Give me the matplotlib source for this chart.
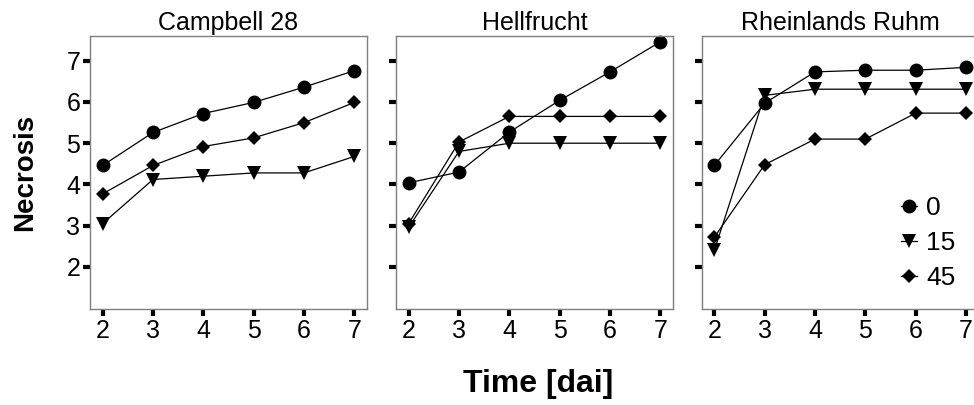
import numpy as np
import matplotlib
matplotlib.use('Agg')
import matplotlib.pyplot as plt
from matplotlib.lines import Line2D

plt.rcParams['font.family'] = ['Liberation Sans', 'DejaVu Sans']

days = [2, 3, 4, 5, 6, 7]
cultivars = ['Campbell 28', 'Hellfrucht', 'Rheinlands Ruhm']
groups = ['0', '15', '45']

# necrosis scores per cultivar and group
campbell_0 = [4.46, 5.26, 5.72, 5.99, 6.36, 6.76]
campbell_15 = [3.05, 4.12, 4.20, 4.28, 4.28, 4.68]
campbell_45 = [3.77, 4.46, 4.92, 5.13, 5.50, 5.99]

hell_0 = [4.04, 4.30, 5.27, 6.04, 6.73, 7.46]
hell_15 = [2.96, 4.80, 5.00, 5.00, 5.00, 5.00]
hell_45 = [3.05, 5.03, 5.65, 5.65, 5.65, 5.65]

rhein_0 = [4.46, 5.97, 6.73, 6.77, 6.77, 6.84]
rhein_15 = [2.40, 6.16, 6.31, 6.31, 6.31, 6.31]
rhein_45 = [2.72, 4.48, 5.10, 5.10, 5.73, 5.73]

data = {
    'Campbell 28': [campbell_0, campbell_15, campbell_45],
    'Hellfrucht': [hell_0, hell_15, hell_45],
    'Rheinlands Ruhm': [rhein_0, rhein_15, rhein_45],
}
markers = ['o', 'v', 'D']
msizes = [10, 10, 7.5]

fig = plt.figure(figsize=(9.74, 4.05), dpi=100)

lefts = [90, 396, 701.7]
width = 277
bottom = 1 - 309 / 405
height = (309 - 36) / 405

axes = []
for i, name in enumerate(cultivars):
    ax = fig.add_axes([lefts[i] / 974, bottom, width / 974, height])
    for vals, m, ms in zip(data[name], markers, msizes):
        ax.plot(days, vals, color='black', lw=0.9, marker=m, ms=ms,
                markeredgewidth=0, clip_on=False)
    ax.set_xlim(1.75, 7.25)
    ax.set_ylim(0.98, 7.6)
    ax.set_xticks(days)
    ax.set_yticks([2, 3, 4, 5, 6, 7])
    ax.tick_params(direction='out', length=5, width=3, color='black',
                   labelsize=18, pad=2)
    if i > 0:
        ax.set_yticklabels([])
    for sp in ax.spines.values():
        sp.set_color('#7f7f7f')
        sp.set_linewidth(1.0)
    ax.set_title(name, fontsize=18, pad=4)
    axes.append(ax)

handles = [Line2D([0], [0], color='black', lw=0.9, marker=m, ms=ms,
                  markeredgewidth=0) for m, ms in zip(markers, msizes)]
axes[2].legend(handles, groups, loc='lower right', bbox_to_anchor=(0.955, 0.03),
               frameon=False, fontsize=19, handlelength=0.6, handletextpad=0.35,
               labelspacing=0.42, borderaxespad=0)

fig.text(0.026, bottom + height / 2, 'Necrosis', rotation=90,
         fontsize=20, fontweight='bold', ha='center', va='center')
fig.text(538 / 974, 1 - 384 / 405, 'Time [dai]', fontsize=23,
         fontweight='bold', ha='center', va='center')

fig.savefig('out.png', dpi=100)
